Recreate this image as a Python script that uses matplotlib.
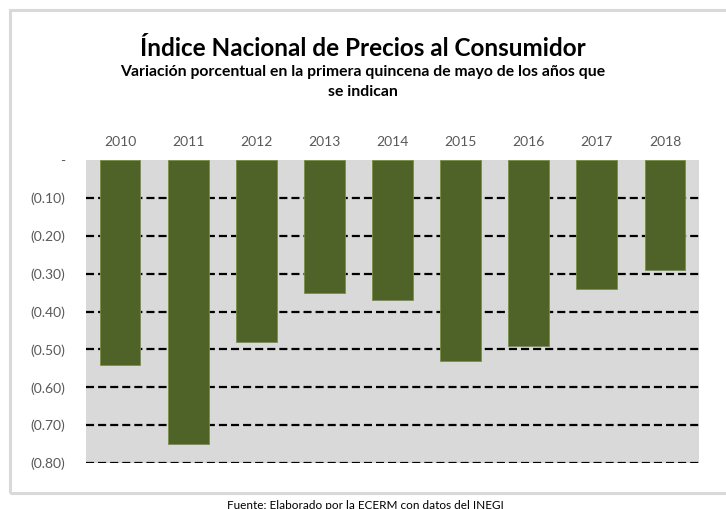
import matplotlib.pyplot as plt
from matplotlib.patches import Rectangle
import numpy as np

years = ["2010", "2011", "2012", "2013", "2014", "2015", "2016", "2017", "2018"]
values = [-0.54, -0.75, -0.48, -0.35, -0.37, -0.53, -0.49, -0.34, -0.29]
yticks = [0.0, -0.1, -0.2, -0.3, -0.4, -0.5, -0.6, -0.7, -0.8]


def fmt(v):
    if abs(v) < 1e-9:
        return "-"
    return "(%.2f)" % abs(v)


plt.rcParams['font.family'] = ['Lato', 'DejaVu Sans']
plt.rcParams['lines.scale_dashes'] = False

fig = plt.figure(figsize=(7.26, 5.09), dpi=100)

# outer chart border
fig.patches.append(Rectangle((10 / 726, 16 / 509), 730 / 726, 483 / 509,
                             transform=fig.transFigure, fill=False,
                             edgecolor="#D9D9D9", linewidth=2.2))

ax = fig.add_axes([86 / 726, 46 / 509, 613 / 726, 303 / 509])
ax.set_facecolor("#D9D9D9")
x = np.arange(len(years))
ax.bar(x, values, width=0.6, color="#4F6228", edgecolor="#76923C",
       linewidth=0.6, zorder=3)
ax.set_xlim(-0.5, len(years) - 0.5)
ax.set_ylim(-0.8, 0.0)

for t in yticks[1:]:
    ax.axhline(t, color="black", linewidth=1.6, dashes=(5.8, 2.9), zorder=2)

ax.set_yticks(yticks)
ax.set_yticklabels([fmt(v) for v in yticks], color="#595959", fontsize=10)
ax.tick_params(axis="y", length=0, pad=15)
ax.set_xticks(x)
ax.set_xticklabels(years, color="#595959", fontsize=10)
ax.xaxis.tick_top()
ax.tick_params(axis="x", length=0, pad=9)
for s in ax.spines.values():
    s.set_visible(False)

fig.text(0.5, 460 / 509, "Índice Nacional de Precios al Consumidor",
         ha="center", va="center", fontsize=17.5, fontweight="bold")
fig.text(0.5, 437 / 509, "Variación porcentual en la primera quincena de mayo de los años que",
         ha="center", va="center", fontsize=11.3, fontweight="bold")
fig.text(0.5, 417 / 509, "se indican",
         ha="center", va="center", fontsize=11.3, fontweight="bold")
fig.text(365 / 726, -2 / 509, "Fuente: Elaborado por la ECERM con datos del INEGI",
         ha="center", va="bottom", fontsize=8.5)

fig.savefig("out.png", dpi=100)
